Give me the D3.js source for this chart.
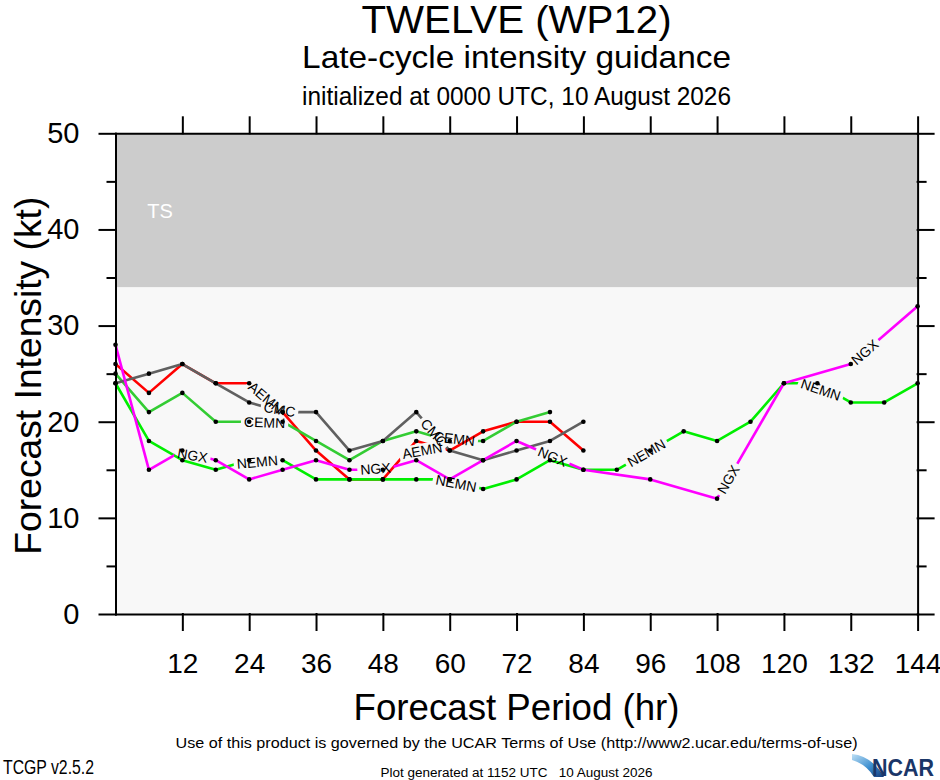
<!DOCTYPE html>
<html>
<head>
<meta charset="utf-8">
<script src="https://cdn.jsdelivr.net/npm/d3@7"></script>
<style>
  body { margin: 0; background: #fff; }
  svg { display: block; font-family: "Liberation Sans", Arial, Helvetica, sans-serif; }
  .axis path, .axis line { stroke: #000; stroke-width: 2; stroke-linecap: square; }
</style>
</head>
<body>
<svg id="chart" width="940" height="780"></svg>
<script>
// Forecast hours (6-hourly) and intensity guidance per model (kt), null = no forecast
const hours = [0, 6, 12, 18, 24, 30, 36, 42, 48, 54, 60, 66, 72, 78, 84, 90, 96, 102, 108, 114, 120, 126, 132, 138, 144];
const aemnKt = [26, 23, 26, 24, 24, 21, 17, 14, 14, 18, 17, 19, 20, 20, 17];
const cemnKt = [25, 21, 23, 20, 20, 20, 18, 16, 18, 19, 18, 18, 20, 21];
const cmcKt = [24, 25, 26, 24, 22, 21, 21, 17, 18, 21, 17, 16, 17, 18, 20];
const nemnKt = [24, 18, 16, 15, 16, 16, 14, 14, 14, 14, 14, 13, 14, 16, 15, 15, 17, 19, 18, 20, 24, 24, 22, 22, 24];
const ngxKt = [28, 15, 17, 16, 14, 15, 16, 15, 15, 16, 14, 16, 18, null, 15, null, 14, null, 12, null, 24, null, 26, null, 32];

const yTicks = [0, 10, 20, 30, 40, 50];
const yMinorTicks = [5, 15, 25, 35, 45];
const xTicks = [12, 24, 36, 48, 60, 72, 84, 96, 108, 120, 132, 144];
const tsThreshold = 34;

// Model styling and where the inline line labels sit (forecast hour)
const models = [
  { name: 'AEMN', kt: aemnKt, color: '#ff0000', labelAt: [27, 54.6] },
  { name: 'CEMN', kt: cemnKt, color: '#33cc33', labelAt: [26.8, 60.8] },
  { name: 'CMC',  kt: cmcKt,  color: '#606060', labelAt: [29.4, 57.2] },
  { name: 'NEMN', kt: nemnKt, color: '#00ee00', labelAt: [25.4, 61.2, 95.3, 126.8] },
  { name: 'NGX',  kt: ngxKt,  color: '#ff00ff', labelAt: [13.8, 46.7, 78.5, 110, 134.5] }
];

const svg = d3.select('#chart');
const defs = svg.append('defs');

const x = d3.scaleLinear().domain([0, 144]).range([115.5, 917.6]);
const y = d3.scaleLinear().domain([0, 50]).range([614, 133.3]);

// Plot background and tropical storm band
svg.append('rect')
  .attr('x', x(0)).attr('y', y(50))
  .attr('width', x(144) - x(0)).attr('height', y(0) - y(50))
  .attr('fill', '#f8f8f8');

svg.append('rect')
  .attr('x', x(0)).attr('y', y(50))
  .attr('width', x(144) - x(0)).attr('height', y(tsThreshold) - y(50))
  .attr('fill', '#cccccc');

svg.append('text')
  .attr('x', x(8)).attr('y', y(41.2))
  .attr('text-anchor', 'middle')
  .attr('font-size', 20)
  .attr('fill', '#fff')
  .text('TS');

// Layers
const gLines = svg.append('g');
const gLabels = svg.append('g');
const gDots = svg.append('g');

const line = d3.line().x(d => x(d.h)).y(d => y(d.v));

function pointsFor(kt) {
  return kt.map((v, i) => ({ h: hours[i], v: v })).filter(d => d.v !== null && d.v !== undefined);
}

// Position a label of width w along the polyline, centred at forecast hour hc
function placeLabel(pts, hc, w) {
  const s = [0];
  for (let i = 1; i < pts.length; i++) {
    s.push(s[i - 1] + Math.hypot(pts[i][0] - pts[i - 1][0], pts[i][1] - pts[i - 1][1]));
  }
  const xc = x(hc);
  let sc = 0;
  for (let i = 0; i < pts.length - 1; i++) {
    if (xc >= pts[i][0] && xc <= pts[i + 1][0]) {
      const t = (xc - pts[i][0]) / (pts[i + 1][0] - pts[i][0]);
      sc = s[i] + t * (s[i + 1] - s[i]);
      break;
    }
  }
  const at = d => {
    d = Math.max(0, Math.min(s[s.length - 1], d));
    for (let i = 0; i < pts.length - 1; i++) {
      if (d <= s[i + 1]) {
        const t = (d - s[i]) / ((s[i + 1] - s[i]) || 1);
        return [pts[i][0] + t * (pts[i + 1][0] - pts[i][0]), pts[i][1] + t * (pts[i + 1][1] - pts[i][1])];
      }
    }
    return pts[pts.length - 1];
  };
  const a = at(sc - w / 2), b = at(sc + w / 2);
  return {
    cx: (a[0] + b[0]) / 2,
    cy: (a[1] + b[1]) / 2,
    ang: Math.atan2(b[1] - a[1], b[0] - a[0]) * 180 / Math.PI
  };
}

models.forEach(m => {
  const data = pointsFor(m.kt);
  const pix = data.map(d => [x(d.h), y(d.v)]);
  const id = 'mask-' + m.name;

  const mask = defs.append('mask')
    .attr('id', id)
    .attr('maskUnits', 'userSpaceOnUse')
    .attr('x', 0).attr('y', 0).attr('width', 940).attr('height', 780);
  mask.append('rect').attr('width', 940).attr('height', 780).attr('fill', '#fff');

  gLines.append('path')
    .datum(data)
    .attr('d', line)
    .attr('fill', 'none')
    .attr('stroke', m.color)
    .attr('stroke-width', 2.6)
    .attr('stroke-linejoin', 'round')
    .attr('mask', `url(#${id})`);

  m.labelAt.forEach(hc => {
    const t = gLabels.append('text')
      .attr('font-size', 14)
      .attr('text-anchor', 'middle')
      .attr('dy', '0.36em')
      .attr('fill', '#000')
      .text(m.name);
    const w = t.node().getComputedTextLength();
    const p = placeLabel(pix, hc, w);
    const tr = `translate(${p.cx},${p.cy}) rotate(${p.ang})`;
    t.attr('transform', tr);
    mask.append('rect')
      .attr('transform', tr)
      .attr('x', -w / 2 - 3).attr('y', -7)
      .attr('width', w + 6).attr('height', 14)
      .attr('fill', '#000');
  });

  gDots.selectAll(null)
    .data(data)
    .enter()
    .append('circle')
    .attr('cx', d => x(d.h))
    .attr('cy', d => y(d.v))
    .attr('r', 2.3)
    .attr('fill', '#000');
});

// Axes
const fontFam = '"Liberation Sans", Arial, Helvetica, sans-serif';

svg.append('g').attr('class', 'axis')
  .attr('transform', `translate(${x(0)},0)`)
  .call(d3.axisLeft(y).tickValues(yTicks).tickSize(16).tickSizeOuter(0).tickPadding(20))
  .attr('font-size', 29).attr('font-family', fontFam);

svg.append('g').attr('class', 'axis')
  .attr('transform', `translate(${x(0)},0)`)
  .call(d3.axisLeft(y).tickValues(yMinorTicks).tickSize(8).tickFormat(''))
  .call(g => g.select('.domain').remove());

svg.append('g').attr('class', 'axis')
  .attr('transform', `translate(${x(144)},0)`)
  .call(d3.axisRight(y).tickValues(yTicks).tickSize(16).tickSizeOuter(0).tickFormat(''));

svg.append('g').attr('class', 'axis')
  .attr('transform', `translate(${x(144)},0)`)
  .call(d3.axisRight(y).tickValues(yMinorTicks).tickSize(8).tickFormat(''))
  .call(g => g.select('.domain').remove());

svg.append('g').attr('class', 'axis')
  .attr('transform', `translate(0,${y(0)})`)
  .call(d3.axisBottom(x).tickValues(xTicks).tickSize(16).tickSizeOuter(0).tickPadding(23))
  .attr('font-size', 28).attr('font-family', fontFam);

svg.append('g').attr('class', 'axis')
  .attr('transform', `translate(0,${y(50)})`)
  .call(d3.axisTop(x).tickValues(xTicks).tickSize(16).tickSizeOuter(0).tickFormat(''));

// Titles
const cx = (x(0) + x(144)) / 2;
svg.append('text').attr('x', cx).attr('y', 33).attr('text-anchor', 'middle')
  .attr('font-size', 38).attr('textLength', 310).attr('lengthAdjust', 'spacingAndGlyphs')
  .text('TWELVE (WP12)');
svg.append('text').attr('x', cx).attr('y', 68).attr('text-anchor', 'middle')
  .attr('font-size', 32).attr('textLength', 429).attr('lengthAdjust', 'spacingAndGlyphs')
  .text('Late-cycle intensity guidance');
svg.append('text').attr('x', cx).attr('y', 105).attr('text-anchor', 'middle')
  .attr('font-size', 25).attr('textLength', 429).attr('lengthAdjust', 'spacingAndGlyphs')
  .text('initialized at 0000 UTC, 10 August 2026');

svg.append('text').attr('x', cx).attr('y', 720).attr('text-anchor', 'middle')
  .attr('font-size', 36).attr('textLength', 326).attr('lengthAdjust', 'spacingAndGlyphs')
  .text('Forecast Period (hr)');
svg.append('text')
  .attr('transform', `translate(41,${(y(0) + y(50)) / 2 + 2}) rotate(-90)`)
  .attr('text-anchor', 'middle')
  .attr('font-size', 36).attr('textLength', 358).attr('lengthAdjust', 'spacingAndGlyphs')
  .text('Forecast Intensity (kt)');

// Footer
svg.append('text').attr('x', cx).attr('y', 748).attr('text-anchor', 'middle')
  .attr('font-size', 14).attr('textLength', 682).attr('lengthAdjust', 'spacingAndGlyphs')
  .text('Use of this product is governed by the UCAR Terms of Use (http://www2.ucar.edu/terms-of-use)');
svg.append('text').attr('x', 3).attr('y', 774)
  .attr('font-size', 20).attr('textLength', 91).attr('lengthAdjust', 'spacingAndGlyphs')
  .text('TCGP v2.5.2');
svg.append('text').attr('x', cx).attr('y', 777).attr('text-anchor', 'middle')
  .attr('font-size', 12).attr('textLength', 272).attr('lengthAdjust', 'spacingAndGlyphs')
  .style('white-space', 'pre')
  .text('Plot generated at 1152 UTC   10 August 2026');

// NCAR logo
const grad = defs.append('linearGradient').attr('id', 'ncarGrad')
  .attr('x1', 0).attr('y1', 0).attr('x2', 1).attr('y2', 1);
grad.append('stop').attr('offset', '0%').attr('stop-color', '#bfe0f5');
grad.append('stop').attr('offset', '55%').attr('stop-color', '#3d8fd0');
grad.append('stop').attr('offset', '100%').attr('stop-color', '#12397a');
svg.append('path')
  .attr('d', 'M852,754 Q872,756 884,777 L874,777 Q866,764 852,760 Z')
  .attr('fill', 'url(#ncarGrad)');
svg.append('text').attr('x', 872).attr('y', 776)
  .attr('font-size', 24).attr('font-weight', 'bold')
  .attr('textLength', 62).attr('lengthAdjust', 'spacingAndGlyphs')
  .attr('fill', '#1a3668')
  .text('NCAR');
</script>
</body>
</html>
